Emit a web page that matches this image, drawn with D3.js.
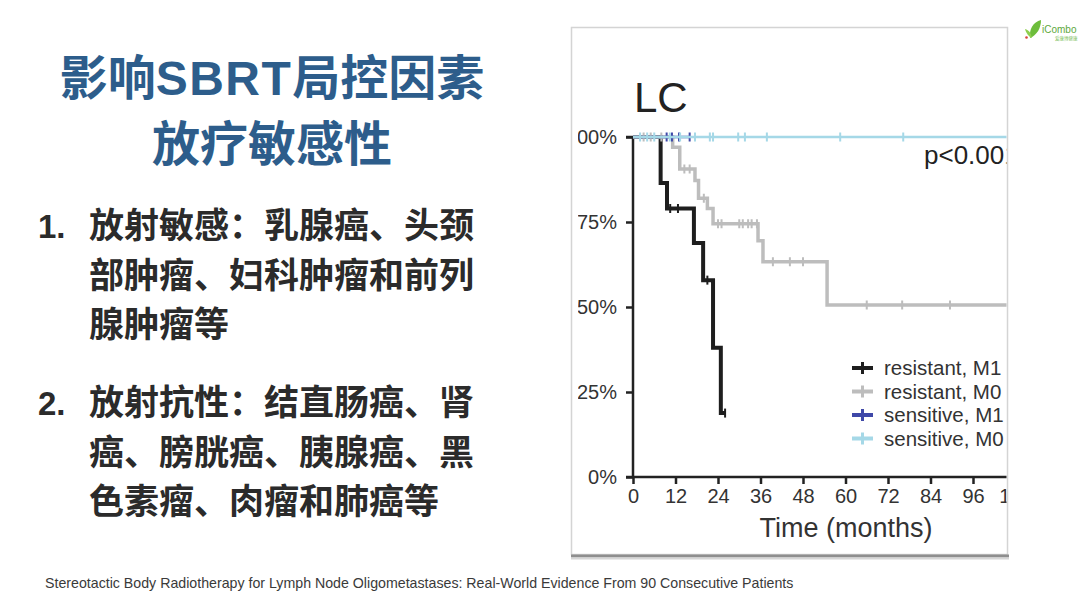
<!DOCTYPE html>
<html><head><meta charset="utf-8">
<script src="https://cdn.jsdelivr.net/npm/d3@7/dist/d3.min.js"></script>
<style>body{margin:0;background:#fff}svg{display:block}</style>
</head><body><svg id="c" width="1080" height="608"></svg>
<script>
// ---------- text content ----------
const titleLine1 = ["影响", "SBRT", "局控因素"];
const titleLine2 = "放疗敏感性";
const item1Lines = ["放射敏感：乳腺癌、头颈", "部肿瘤、妇科肿瘤和前列", "腺肿瘤等"];
const item2Lines = ["放射抗性：结直肠癌、肾", "癌、膀胱癌、胰腺癌、黑", "色素瘤、肉瘤和肺癌等"];
const caption = "Stereotactic Body Radiotherapy for Lymph Node Oligometastases: Real-World Evidence From 90 Consecutive Patients";
const chartTitle = "LC";
const pText = "p<0.001";
const xTitle = "Time (months)";

// ---------- chart data (Kaplan-Meier steps) ----------
const seriesNames = ["resistant, M1", "resistant, M0", "sensitive, M1", "sensitive, M0"];

const resM1Times = [0, 7.8, 9.6, 17.2, 19.8, 22.6, 24.8];
const resM1Surv  = [1, 0.865, 0.79, 0.688, 0.579, 0.38, 0.188];
const resM1End = 26;
const resM1Censor = [10.5, 12.7, 21, 26];

const resM0Times = [0, 11.2, 13.2, 17.5, 18.5, 21.0, 22.6, 35.3, 36.7, 54.8];
const resM0Surv  = [1, 0.97, 0.906, 0.872, 0.82, 0.79, 0.745, 0.695, 0.633, 0.506];
const resM0End = 108;
const resM0Censor = [3, 5, 8, 14.5, 16, 20, 24, 25, 30, 31, 32.5, 33.5, 35, 39.5, 44.3, 48, 66, 76, 89.5];

const sensM1Times = [0];
const sensM1Surv  = [1];
const sensM1End = 16;
const sensM1Censor = [9.5, 11, 13, 16];

const sensM0Times = [0];
const sensM0Surv  = [1];
const sensM0End = 108;
const sensM0Censor = [2, 4, 6, 10.4, 13.3, 17.5, 21.7, 22.6, 29.7, 31.6, 37.8, 58.5, 76.3];

const xTicks = [0, 12, 24, 36, 48, 60, 72, 84, 96, 108];
const yTicks = [0, 0.25, 0.5, 0.75, 1];

// ---------- drawing ----------
const svg = d3.select("#c");
svg.append("rect").attr("width", 1080).attr("height", 608).attr("fill", "#fff");

const CJK = "'Noto Sans CJK SC', 'Liberation Sans', sans-serif";
const LAT = "'Liberation Sans', Arial, Helvetica, sans-serif";

// Title
const t1 = svg.append("text").attr("x", 272).attr("y", 95).attr("text-anchor", "middle")
  .attr("font-family", CJK).attr("font-weight", "bold").attr("font-size", 48).attr("fill", "#2d5d8b");
t1.selectAll("tspan").data(titleLine1).join("tspan")
  .attr("font-family", (d, i) => i === 1 ? LAT : CJK)
  .attr("letter-spacing", (d, i) => i === 1 ? 1.5 : 0)
  .text(d => d);
svg.append("text").attr("x", 272).attr("y", 161).attr("text-anchor", "middle")
  .attr("font-family", CJK).attr("font-weight", "bold").attr("font-size", 48).attr("fill", "#2d5d8b")
  .text(titleLine2);

// Bullet items
function drawItem(num, lines, y0) {
  svg.append("text").attr("x", 38).attr("y", y0)
    .attr("font-family", LAT).attr("font-weight", "bold").attr("font-size", 33)
    .attr("fill", "#2b2b2b").text(num);
  svg.selectAll(null).data(lines).join("text")
    .attr("x", 89).attr("y", (d, i) => y0 + i * 49.5)
    .attr("font-family", CJK).attr("font-weight", "bold").attr("font-size", 35)
    .attr("fill", "#2b2b2b").text(d => d);
}
drawItem("1.", item1Lines, 238);
drawItem("2.", item2Lines, 415);

// Caption
svg.append("text").attr("x", 45).attr("y", 588)
  .attr("font-family", LAT).attr("font-size", 14.2).attr("fill", "#3a3a3a")
  .text(caption);

// Logo
const logo = svg.append("g");
logo.append("path").attr("d", "M1030,38 C1029,29 1033,22 1041,20 C1041,28 1037,35 1030,38 Z").attr("fill", "#6dbd3b");
logo.append("path").attr("d", "M1032,38 C1031,33 1029,30 1025,29 C1026,33 1029,37 1032,38 Z").attr("fill", "#8fcf4f");
logo.append("circle").attr("cx", 1026.5).attr("cy", 37.5).attr("r", 1.3).attr("fill", "#d9413a");
logo.append("text").attr("x", 1042).attr("y", 33).attr("font-family", LAT).attr("font-size", 10)
  .attr("fill", "#5ea83c").text("iCombo");
logo.append("text").attr("x", 1055).attr("y", 40).attr("font-family", CJK).attr("font-size", 4.5)
  .attr("fill", "#7fbf5f").text("爱康博健康");

// Chart panel
const panel = svg.append("g");
panel.append("rect").attr("x", 571.5).attr("y", 27.5).attr("width", 436).attr("height", 527)
  .attr("fill", "#fff").attr("stroke", "#d4d4d4").attr("stroke-width", 1.5);
panel.append("line").attr("x1", 571).attr("x2", 1009).attr("y1", 556).attr("y2", 556)
  .attr("stroke", "#8e8e8e").attr("stroke-width", 3);
panel.append("line").attr("x1", 571).attr("x2", 1009).attr("y1", 558.5).attr("y2", 558.5)
  .attr("stroke", "#d6d6d6").attr("stroke-width", 2);

svg.append("defs").append("clipPath").attr("id", "pc")
  .append("rect").attr("x", 578).attr("y", 28).attr("width", 428.5).attr("height", 526);

const g = svg.append("g").attr("clip-path", "url(#pc)");

const x = d3.scaleLinear().domain([0, 108]).range([633, 1015.5]);
const y = d3.scaleLinear().domain([0, 1]).range([477, 137]);

// Y axis
const yAxis = d3.axisLeft(y).tickValues(yTicks).tickFormat(d3.format(".0%")).tickSize(7).tickPadding(9);
const ya = g.append("g").attr("transform", "translate(633,0)").call(yAxis);
ya.select(".domain").attr("stroke", "#222").attr("stroke-width", 2.5).attr("d", "M-7,137H0V477H-7");
ya.selectAll(".tick line").attr("stroke", "#222").attr("stroke-width", 2.5);
ya.selectAll(".tick text").attr("font-family", LAT).attr("font-size", 20).attr("fill", "#333");

// X axis
const xAxis = d3.axisBottom(x).tickValues(xTicks).tickFormat(d3.format("d")).tickSize(7).tickPadding(5);
const xa = g.append("g").attr("transform", "translate(0,477)").call(xAxis);
xa.select(".domain").attr("stroke", "#222").attr("stroke-width", 2.5).attr("d", "M633,0H1015.5");
xa.selectAll(".tick line").attr("stroke", "#222").attr("stroke-width", 2.5);
xa.selectAll(".tick text").attr("font-family", LAT).attr("font-size", 20).attr("fill", "#333");

g.append("text").attr("x", 846).attr("y", 537).attr("text-anchor", "middle")
  .attr("font-family", LAT).attr("font-size", 27).attr("fill", "#333").text(xTitle);

g.append("text").attr("x", 634).attr("y", 112)
  .attr("font-family", LAT).attr("font-size", 42).attr("fill", "#222").text(chartTitle);

g.append("text").attr("x", 924).attr("y", 164)
  .attr("font-family", LAT).attr("font-size", 26).attr("fill", "#222").text(pText);

// KM curves
const series = [
  {times: resM1Times, surv: resM1Surv, end: resM1End, censor: resM1Censor, color: "#1e1e1e", w: 4},
  {times: resM0Times, surv: resM0Surv, end: resM0End, censor: resM0Censor, color: "#bdbdbd", w: 3.5},
  {times: sensM1Times, surv: sensM1Surv, end: sensM1End, censor: sensM1Censor, color: "#3f48a8", w: 2.5},
  {times: sensM0Times, surv: sensM0Surv, end: sensM0End, censor: sensM0Censor, color: "#a5d8e7", w: 2.5}
];
const line = d3.line().x(d => x(d[0])).y(d => y(d[1])).curve(d3.curveStepAfter);
function survAt(s, t) {
  let v = s.surv[0];
  for (let i = 0; i < s.times.length; i++) if (s.times[i] <= t) v = s.surv[i];
  return v;
}
series.forEach(s => {
  const pts = s.times.map((t, i) => [t, s.surv[i]]);
  pts.push([s.end, s.surv[s.surv.length - 1]]);
  g.append("path").attr("d", line(pts)).attr("fill", "none")
    .attr("stroke", s.color).attr("stroke-width", s.w).attr("stroke-linejoin", "miter");
  g.selectAll(null).data(s.censor).join("line")
    .attr("x1", d => x(d)).attr("x2", d => x(d))
    .attr("y1", d => y(survAt(s, d)) - 4.5).attr("y2", d => y(survAt(s, d)) + 4.5)
    .attr("stroke", s.color).attr("stroke-width", 2);
});

// Legend
const legendY = [368, 391.5, 415, 438.5];
const lg = g.selectAll("g.lg").data(seriesNames).join("g").attr("class", "lg")
  .attr("transform", (d, i) => `translate(0,${legendY[i]})`);
lg.append("line").attr("x1", 852).attr("x2", 873).attr("y1", 0).attr("y2", 0)
  .attr("stroke", (d, i) => series[i].color).attr("stroke-width", 4);
lg.append("line").attr("x1", 862.5).attr("x2", 862.5).attr("y1", -6).attr("y2", 6)
  .attr("stroke", (d, i) => series[i].color).attr("stroke-width", 3);
lg.append("text").attr("x", 884).attr("y", 7)
  .attr("font-family", LAT).attr("font-size", 20.5).attr("fill", "#333").text(d => d);
</script></body></html>
